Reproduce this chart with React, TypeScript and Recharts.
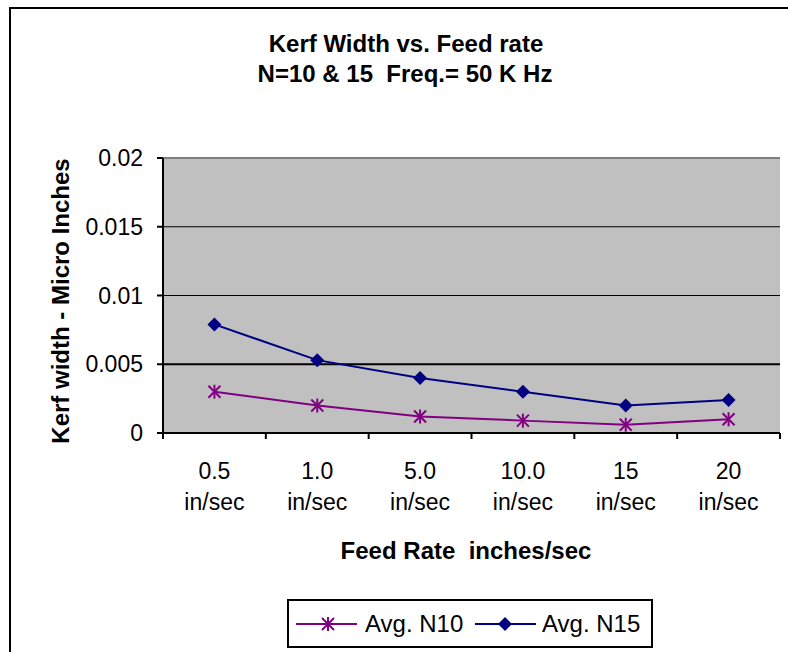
import React from "react"
import { LineChart, Line, XAxis, YAxis, CartesianGrid, ReferenceLine } from "recharts"

const categories = ["0.5", "1.0", "5.0", "10.0", "15", "20"]
const unitLabel = "in/sec"
const avgN10 = [0.003, 0.002, 0.0012, 0.0009, 0.0006, 0.001]
const avgN15 = [0.0079, 0.0053, 0.004, 0.003, 0.002, 0.0024]
const yTicks = [0, 0.005, 0.01, 0.015, 0.02]
const gridValues = [0.01, 0.015]

const titleLines = ["Kerf Width vs. Feed rate", "N=10 & 15  Freq.= 50 K Hz"]
const xTitle = "Feed Rate  inches/sec"
const yTitle = "Kerf width - Micro Inches"

const data = categories.map((name, i) => ({ name, n10: avgN10[i], n15: avgN15[i] }))

const FONT = "'Liberation Sans', Arial, sans-serif"
const N10_COLOR = "#800080"
const N15_COLOR = "#000080"
const PLOT_W = 617

function StarDot({ cx, cy, stroke }: any) {
  if (cx == null || cy == null) return null
  const r = 6
  return (
    <g stroke={stroke} strokeWidth={2}>
      <line x1={cx - r} y1={cy - r} x2={cx + r} y2={cy + r} />
      <line x1={cx - r} y1={cy + r} x2={cx + r} y2={cy - r} />
      <line x1={cx} y1={cy - r - 1} x2={cx} y2={cy + r + 1} />
    </g>
  )
}

function DiamondDot({ cx, cy, stroke }: any) {
  if (cx == null || cy == null) return null
  const r = 7
  return <path d={`M${cx},${cy - r}L${cx + r},${cy}L${cx},${cy + r}L${cx - r},${cy}Z`} fill={stroke} />
}

function FeedTick(props: any) {
  const { x, y, payload, index, visibleTicksCount } = props
  const half = payload && payload.offset ? payload.offset : PLOT_W / categories.length / 2
  const last = index === (visibleTicksCount ?? categories.length) - 1
  return (
    <g>
      <line x1={x - half} y1={y} x2={x - half} y2={y + 6} stroke="#000" strokeWidth={2} />
      {last && <line x1={x + half} y1={y} x2={x + half} y2={y + 6} stroke="#000" strokeWidth={2} />}
      <text x={x} y={y + 46} textAnchor="middle" fontSize={23} fontFamily={FONT} fill="#000">
        {payload.value}
      </text>
      <text x={x} y={y + 77} textAnchor="middle" fontSize={23} fontFamily={FONT} fill="#000">
        {unitLabel}
      </text>
    </g>
  )
}

function LegendBox() {
  return (
    <svg width={368} height={50} style={{ position: "absolute", left: 287, top: 599 }}>
      <rect x={1} y={1} width={364} height={47} fill="#fff" stroke="#000" strokeWidth={2} />
      <line x1={9} y1={25} x2={70} y2={25} stroke={N10_COLOR} strokeWidth={2} />
      <StarDot cx={41} cy={25} stroke={N10_COLOR} />
      <text x={78} y={33} fontSize={24} fontFamily={FONT} fill="#000">Avg. N10</text>
      <line x1={188} y1={25} x2={249} y2={25} stroke={N15_COLOR} strokeWidth={2} />
      <DiamondDot cx={218} cy={25} stroke={N15_COLOR} />
      <text x={255} y={33} fontSize={24} fontFamily={FONT} fill="#000">Avg. N15</text>
    </svg>
  )
}

export default function App() {
  return (
    <div style={{ position: "absolute", left: 0, top: 0, width: 788, height: 652, overflow: "hidden", background: "#fff" }}>
      <div style={{ position: "absolute", left: 9, top: 7, width: 800, height: 700, border: "2px solid #000" }} />
      <div style={{ position: "absolute", left: 0, top: 0 }}>
        <LineChart width={788} height={652} data={data} margin={{ top: 158, right: 8, bottom: 119, left: 63 }}>
          <CartesianGrid vertical={false} horizontalValues={gridValues} stroke="#000" strokeOpacity={1} fill="#C0C0C0" fillOpacity={1} />
          <ReferenceLine y={0.005} stroke="#000" strokeWidth={2} />
          <ReferenceLine y={0.02} stroke="#808080" strokeWidth={2} />
          <XAxis
            dataKey="name"
            scale="band"
            height={100}
            interval={0}
            tickSize={0}
            tickMargin={0}
            tickLine={false}
            axisLine={{ stroke: "#000", strokeWidth: 2 }}
            tick={<FeedTick />}
          />
          <YAxis
            width={100}
            domain={[0, 0.02]}
            ticks={yTicks}
            interval={0}
            tickSize={6}
            tickMargin={14}
            axisLine={{ stroke: "#000", strokeWidth: 2 }}
            tickLine={{ stroke: "#000", strokeWidth: 2 }}
            tick={{ fontSize: 23, fontFamily: FONT, fill: "#000" }}
          />
          <YAxis yAxisId="right" orientation="right" width={0} domain={[0, 0.02]} tick={false} tickLine={false} axisLine={{ stroke: "#808080", strokeWidth: 2 }} />
          <Line dataKey="n10" stroke={N10_COLOR} strokeWidth={2} dot={<StarDot />} activeDot={false} isAnimationActive={false} />
          <Line dataKey="n15" stroke={N15_COLOR} strokeWidth={2} dot={<DiamondDot />} activeDot={false} isAnimationActive={false} />
        </LineChart>
      </div>
      <svg width={788} height={652} style={{ position: "absolute", left: 0, top: 0, pointerEvents: "none" }}>
        <g fontFamily={FONT} fontWeight="bold" fontSize={24} fill="#000">
          <text x={406} y={52} textAnchor="middle" style={{ whiteSpace: "pre" }}>{titleLines[0]}</text>
          <text x={405} y={82} textAnchor="middle" style={{ whiteSpace: "pre" }}>{titleLines[1]}</text>
          <text x={466} y={559} textAnchor="middle" style={{ whiteSpace: "pre" }}>{xTitle}</text>
          <text x={69} y={301} textAnchor="middle" transform="rotate(-90 69 301)">{yTitle}</text>
        </g>
      </svg>
      <LegendBox />
    </div>
  )
}
